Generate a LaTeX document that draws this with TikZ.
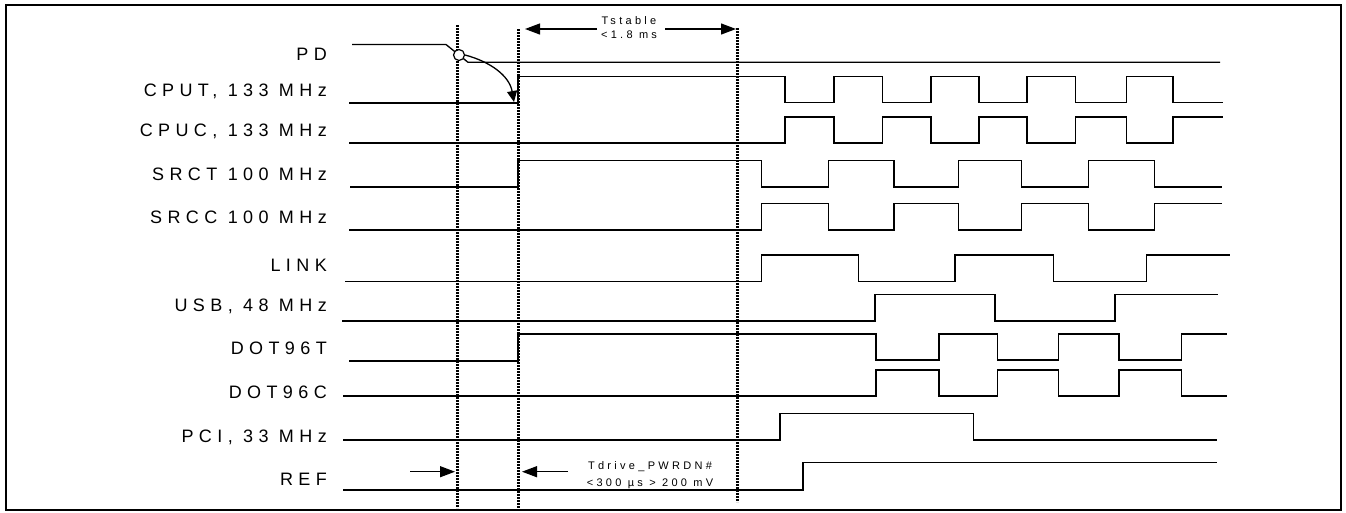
\documentclass[tikz,border=0pt]{standalone}
\usepackage{fontspec}
\setmainfont{Liberation Sans}[LetterSpace=30]
\usetikzlibrary{arrows.meta}

\begin{document}
\begin{tikzpicture}[x=1pt,y=-1pt,line join=miter,
    sig/.style={line width=1.3pt},
    lbl/.style={anchor=base east,inner sep=0pt,font=\fontsize{18}{20}\selectfont},
    note/.style={anchor=base,inner sep=0pt,font=\fontsize{11}{12}\selectfont},
    guide/.style={line width=3pt,dash pattern=on 2pt off 1pt},
    span/.style={line width=1.2pt,-{Triangle[length=15pt,width=11pt]}}]
  \useasboundingbox (0,0) rectangle (1346,512);
  \draw[line width=2pt] (6,5) rectangle (1341,510);
  % signal names
  \node[lbl] (PD) at (327,60) {PD};
  \node[lbl] (CPUT) at (327,96.7) {CPUT, 133 MHz};
  \node[lbl] (CPUC) at (327,136) {CPUC, 133 MHz};
  \node[lbl] (SRCT) at (327,180) {SRCT 100 MHz};
  \node[lbl] (SRCC) at (327,223.3) {SRCC 100 MHz};
  \node[lbl] (LINK) at (327,271.7) {LINK};
  \node[lbl] (USB) at (327,311.7) {USB, 48 MHz};
  \node[lbl] (DOTT) at (327,354.3) {DOT96T};
  \node[lbl] (DOTC) at (327,398.3) {DOT96C};
  \node[lbl] (PCI) at (327,442) {PCI, 33 MHz};
  \node[lbl] (REF) at (327,485) {REF};
  % dotted markers
  \draw[guide] (457,25) -- (457,508);
  \draw[guide] (518,29) -- (518,508);
  \draw[guide] (737,28) -- (737,502);
  % waveforms
  \draw[sig] (352,44.5) -- (446,44.5) -- (468,62.3) -- (1220,62.3);
  \draw[sig] (349,103) -- (518,103) |- (785,76.7) |- (834,102.7) |- (882.7,76.7)
    |- (931,102.7) |- (979,76.7) |- (1027,102.7) |- (1075.7,76.7) |- (1126.7,102.7)
    |- (1173,76.7) |- (1222.7,102.7);
  \draw[sig] (349,143) -- (785,143) |- (834,117) |- (882.7,143) |- (931,117)
    |- (979,143) |- (1027,117) |- (1075.7,143) |- (1126.7,117) |- (1173,143)
    |- (1222.7,117);
  \draw[sig] (350,187) -- (518,187) |- (761.7,160.7) |- (828.3,187) |- (894,160.7)
    |- (958.3,187) |- (1021.7,160.7) |- (1088.3,187) |- (1154.3,160.7) |- (1221.7,187);
  \draw[sig] (349,230) -- (761.7,230) |- (828.3,203.3) |- (894,230) |- (958.3,203.3)
    |- (1021.7,230) |- (1088.3,203.3) |- (1154.3,230) |- (1221.7,203.3);
  \draw[sig] (345,281.7) -- (761.7,281.7) |- (858.3,255) |- (955,281.7) |- (1053.3,255)
    |- (1146.7,281.7) |- (1230,255);
  \draw[sig] (342,321) -- (875,321) |- (995,294.3) |- (1115,321) |- (1218.3,294.3);
  \draw[sig] (349,361) -- (518,361) |- (876,334) |- (939,360) |- (997.7,334)
    |- (1058.3,360) |- (1119,334) |- (1181.7,360) |- (1226.7,334);
  \draw[sig] (343,396) -- (876,396) |- (939,370) |- (997.7,396) |- (1058.3,370)
    |- (1119,396) |- (1181.7,370) |- (1226.7,396);
  \draw[sig] (343,440) -- (780,440) |- (973.3,413.3) |- (1216.7,440);
  \draw[sig] (343,490) -- (803,490) |- (1216.7,462.7);
  % power down edge
  \node[circle,draw,fill=white,line width=1.2pt,inner sep=0pt,minimum size=11pt] (pdx) at (459,55) {};
  \coordinate (cput0) at (514,102);
  \draw[sig,-{Triangle[length=11pt,width=10pt]}] (pdx.east) to[out=-15,in=100] (cput0);
  % timing notes
  \node[note] (tsa) at (629,24) {Tstable};
  \node[note] (tsb) at (629,38) {<1.8 ms};
  \coordinate (tsl) at (597,29);
  \coordinate (tsr) at (665,29);
  \coordinate (tsl0) at (525,29);
  \coordinate (tsr0) at (736,29);
  \draw[span] (tsl) -- (tsl0);
  \draw[span] (tsr) -- (tsr0);
  \node[note] (tda) at (650,469.5) {Tdrive\_PWRDN\#};
  \node[note] (tdb) at (650,486) {<300 µs > 200 mV};
  \coordinate (tdl) at (410,471.7);
  \coordinate (tdl0) at (455,471.7);
  \coordinate (tdr) at (568,471.7);
  \coordinate (tdr0) at (522,471.7);
  \draw[span] (tdl) -- (tdl0);
  \draw[span] (tdr) -- (tdr0);
\end{tikzpicture}
\end{document}
